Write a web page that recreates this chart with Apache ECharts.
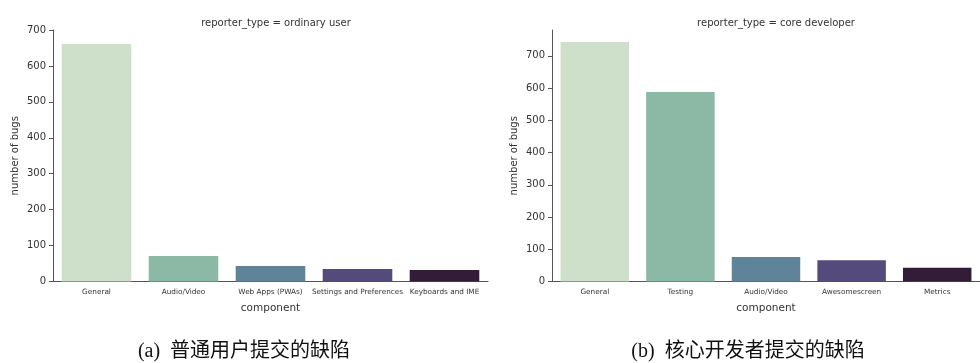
<!DOCTYPE html>
<html>
<head>
<meta charset="utf-8">
<script src="https://cdn.jsdelivr.net/npm/echarts@6/dist/echarts.min.js"></script>
<style>
  html, body { margin: 0; padding: 0; background: #ffffff; }
  #chart { width: 980px; height: 363px; }
</style>
</head>
<body>
<div id="chart"></div>
<script>
// Bug counts per component, split by who reported them
const ordinaryComponents = ['General', 'Audio/Video', 'Web Apps (PWAs)', 'Settings and Preferences', 'Keyboards and IME'];
const ordinaryBugs = [661, 71, 43, 35, 32];
const coreComponents = ['General', 'Testing', 'Audio/Video', 'Awesomescreen', 'Metrics'];
const coreBugs = [743, 588, 76, 66, 43];
const ordinaryTicks = [0, 100, 200, 300, 400, 500, 600, 700];
const coreTicks = [0, 100, 200, 300, 400, 500, 600, 700];
const panelTitles = ['reporter_type = ordinary user', 'reporter_type = core developer'];
const captions = ['(a)  普通用户提交的缺陷', '(b)  核心开发者提交的缺陷'];

// sequential cubehelix-like palette, light to dark
const palette = ['#cfe0ca', '#8bb9a5', '#5f8399', '#544a7b', '#331c38'];

const axisColor = '#555555';
const textColor = '#333333';
const sans = 'DejaVu Sans';

function xAxisFor(gridIndex, cats) {
  return {
    type: 'category',
    gridIndex: gridIndex,
    data: cats,
    name: 'component',
    nameLocation: 'middle',
    nameGap: 21,
    nameTextStyle: { fontFamily: sans, fontSize: 10.5, color: textColor },
    axisLine: { lineStyle: { color: axisColor, width: 1 } },
    axisTick: { alignWithLabel: true, length: 3, lineStyle: { color: axisColor } },
    axisLabel: { fontFamily: sans, fontSize: 7.3, color: textColor, margin: 7, interval: 0 }
  };
}

function yAxisFor(gridIndex, max, ticks) {
  return {
    type: 'value',
    gridIndex: gridIndex,
    min: 0,
    max: max,
    name: 'number of bugs',
    nameLocation: 'middle',
    nameRotate: 90,
    nameGap: 33,
    nameTextStyle: { fontFamily: sans, fontSize: 10, color: textColor },
    splitLine: { show: false },
    axisLine: { show: true, lineStyle: { color: axisColor, width: 1 } },
    axisTick: { show: true, length: 4, customValues: ticks, lineStyle: { color: axisColor } },
    axisLabel: { fontFamily: sans, fontSize: 10, color: textColor, margin: 7, customValues: ticks }
  };
}

function seriesFor(idx, values) {
  return {
    type: 'bar',
    xAxisIndex: idx,
    yAxisIndex: idx,
    barCategoryGap: '20%',
    data: values.map((v, i) => ({ value: v, itemStyle: { color: palette[i] } })),
    silent: true
  };
}

const chart = echarts.init(document.getElementById('chart'), null, { renderer: 'canvas' });
chart.setOption({
  animation: false,
  backgroundColor: '#ffffff',
  title: [
    { text: panelTitles[0], left: 271, top: 13, textAlign: 'center',
      textStyle: { fontFamily: sans, fontSize: 10, fontWeight: 'normal', color: textColor } },
    { text: panelTitles[1], left: 771, top: 13, textAlign: 'center',
      textStyle: { fontFamily: sans, fontSize: 10, fontWeight: 'normal', color: textColor } }
  ],
  grid: [
    { left: 53, top: 30, width: 435, height: 251.5 },
    { left: 552, top: 30, width: 438, height: 251.5 }
  ],
  xAxis: [xAxisFor(0, ordinaryComponents), xAxisFor(1, coreComponents)],
  yAxis: [yAxisFor(0, 700, ordinaryTicks), yAxisFor(1, 780, coreTicks)],
  series: [seriesFor(0, ordinaryBugs), seriesFor(1, coreBugs)],
  graphic: [
    { type: 'text', x: 244, y: 352, style: { text: captions[0], align: 'center', verticalAlign: 'middle',
      font: '20px "Liberation Serif", "Noto Sans CJK SC"', fill: '#111111' } },
    { type: 'text', x: 748, y: 352, style: { text: captions[1], align: 'center', verticalAlign: 'middle',
      font: '20px "Liberation Serif", "Noto Sans CJK SC"', fill: '#111111' } }
  ]
});
</script>
</body>
</html>
